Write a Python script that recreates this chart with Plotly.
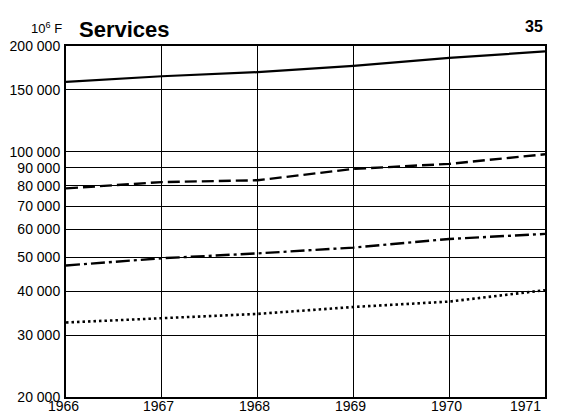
import plotly.graph_objects as go

years = [1966, 1967, 1968, 1969, 1970, 1971]
series_solid = [158000, 164000, 168500, 175500, 185000, 193000]
series_dashed = [78600, 81900, 82900, 89300, 92300, 98300]
series_dashdot = [47400, 49700, 51300, 53300, 56400, 58300]
series_dotted = [32600, 33500, 34500, 36100, 37400, 40300]

y_tick_vals = [20000, 30000, 40000, 50000, 60000, 70000, 80000, 90000, 100000, 150000, 200000]
y_tick_text = ["20 000", "30 000", "40 000", "50 000", "60 000", "70 000",
               "80 000", "90 000", "100 000", "150 000", "200 000"]
x_tick_text = ["1966", "1967", "1968", "1969", "1970", "1971"]

fig = go.Figure()
styles = [
    (series_solid, "solid", 2.2),
    (series_dashed, "12px,5px", 2.4),
    (series_dashdot, "14px,4px,3px,4px", 2.4),
    (series_dotted, "2.5px,3px", 2.6),
]
for vals, dash, w in styles:
    fig.add_trace(go.Scatter(x=years, y=vals, mode="lines",
                             line=dict(color="black", width=w, dash=dash),
                             showlegend=False, hoverinfo="skip"))

font_family = "Liberation Sans, Arial, sans-serif"

annotations = [
    dict(text="<b>Services</b>", xref="paper", yref="paper", x=0.022, y=1.046,
         xanchor="left", yanchor="middle", showarrow=False,
         font=dict(size=22, family=font_family)),
    dict(text="10<sup>6</sup> F", xref="paper", yref="paper", x=-0.005, y=1.05,
         xanchor="right", yanchor="middle", showarrow=False,
         font=dict(size=13, family=font_family)),
    dict(text="<b>35</b>", xref="paper", yref="paper", x=1.0, y=1.056,
         xanchor="right", yanchor="middle", showarrow=False,
         font=dict(size=16, family=font_family)),
]
for i, (yr, lab) in enumerate(zip(years, x_tick_text)):
    last = i == len(years) - 1
    annotations.append(dict(
        text=lab, xref="x", yref="paper", x=yr, y=-0.026,
        xanchor="right" if last else "center", yanchor="middle", showarrow=False,
        xshift=-2 if last else -3, font=dict(size=14, family=font_family)))

fig.update_layout(
    width=562, height=416,
    margin=dict(l=66, r=17, t=46, b=19),
    paper_bgcolor="white", plot_bgcolor="white",
    font=dict(family=font_family, color="black", size=14),
    xaxis=dict(range=[1966, 1971], tickvals=years, showticklabels=False,
               showgrid=True, gridcolor="black", gridwidth=1,
               showline=True, linecolor="black", linewidth=2, mirror=True,
               ticks="", zeroline=False, automargin=False),
    yaxis=dict(type="log", range=[4.30103, 5.30103], tickvals=y_tick_vals, ticktext=y_tick_text,
               showgrid=True, gridcolor="black", gridwidth=1,
               showline=True, linecolor="black", linewidth=2, mirror=True,
               ticks="", zeroline=False, tickfont=dict(size=14), automargin=False,
               ticklabelstandoff=1),
    annotations=annotations,
)

fig.write_html("out.html", config={"displayModeBar": False},
               post_script="document.body.style.margin='0';document.body.style.overflow='hidden';")
